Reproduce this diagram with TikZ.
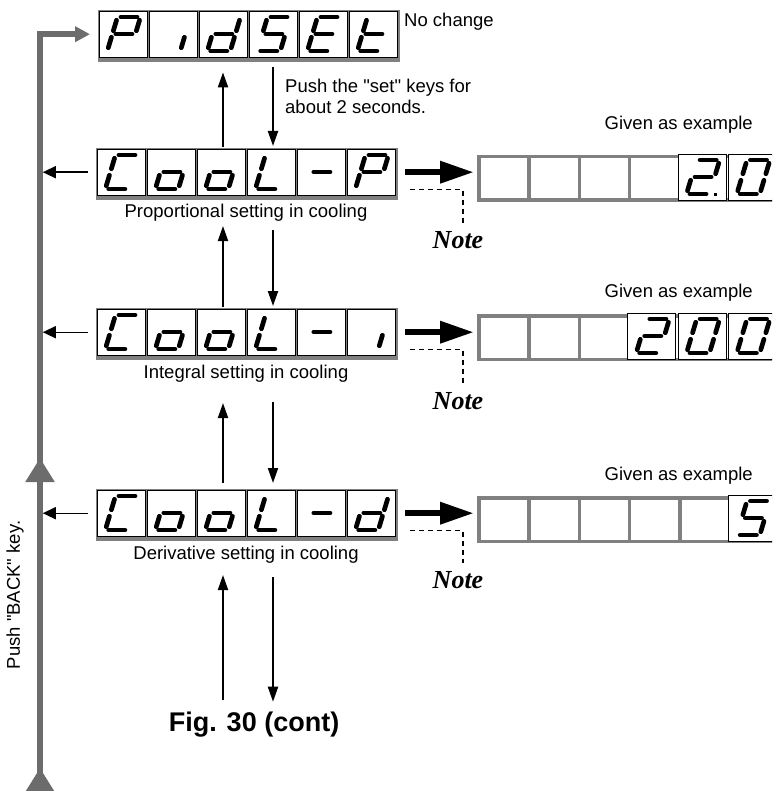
\documentclass[tikz,border=0pt]{standalone}
\usepackage{fontspec}
\setmainfont{Liberation Sans}[Ligatures=TeXOff]
\newfontfamily\notefont{Liberation Serif}
\usetikzlibrary{arrows.meta,decorations.markings}

\definecolor{linegray}{RGB}{108,108,108}
\definecolor{boxgray}{RGB}{128,128,128}

% segment lists of the seven-segment characters
\def\lcdP{tl/tr,tr/mr,tl/ml,ml/mr,ml/bl}
\def\lcdI{mr/br}
\def\lcdD{tr/mr,mr/br,bl/br,ml/bl,ml/mr}
\def\lcdS{tl/tr,tl/ml,ml/mr,mr/br,bl/br}
\def\lcdE{tl/tr,tl/ml,ml/mr,ml/bl,bl/br}
\def\lcdT{tl/ml,ml/bl,ml/mr,bl/br}
\def\lcdC{tl/tr,tl/ml,ml/bl,bl/br}
\def\lcdO{ml/mr,mr/br,bl/br,ml/bl}
\def\lcdL{tl/ml,ml/bl,bl/br}
\def\lcdM{ml/mr}
\def\lcdTwo{tl/tr,tr/mr,ml/mr,ml/bl,bl/br}
\def\lcdZero{tl/tr,tr/mr,mr/br,bl/br,ml/bl,tl/ml}
\let\lcdFive\lcdS

\newcommand{\segcell}[3]{%
  \draw[cellbox] (#1,#2) rectangle ++(48,46);
  \begin{scope}[shift={({#1+18.5},{#2+6})}, xslant=0.3]
    \coordinate (tl) at (0,0);  \coordinate (tr) at (23,0);
    \coordinate (ml) at (0,17); \coordinate (mr) at (23,17);
    \coordinate (bl) at (0,34); \coordinate (br) at (23,34);
    \edef\seglist{#3}
    \foreach \p/\q in \seglist {\draw[lcdseg] (\p) -- (\q);}
  \end{scope}}

\newcommand{\lcdrow}[4]{%
  \node[dispnode] (#1) at (#2,#3) {};
  \fill[boxgray] ({#2-1},{#3-1}) rectangle ({#2+301},{#3+51});
  \foreach \c [count=\k from 0] in {#4} {\segcell{#2+50*\k}{#3}{\c}}}

\newcommand{\valrow}[2]{%
  \node[valnode] (#1) at (477,#2) {};
  \draw[valgrid] (478.75,{#2+1.75}) rectangle (830,{#2+45.25});
  \foreach \k in {1,...,5} {\draw[valgrid] ({478.75+50.3*\k},#2) -- ++(0,47);}}

\begin{document}
\begin{tikzpicture}[x=1pt, y=-1pt,
    cellbox/.style={draw=black, fill=white, line width=0.9pt},
    lcdseg/.style={line width=4.7pt, line cap=round, shorten <=3.4pt, shorten >=3.4pt},
    dispnode/.style={inner sep=0pt, minimum width=298pt, minimum height=46pt, anchor=north west},
    valnode/.style={inner sep=0pt, minimum width=302pt, minimum height=47pt, anchor=north west},
    valgrid/.style={draw=boxgray, line width=3.5pt},
    lbl/.style={font=\fontsize{18.5}{21}\selectfont, inner sep=0pt, anchor=base},
    notetext/.style={font=\notefont\fontsize{26}{28}\selectfont\bfseries\itshape, inner sep=0pt},
    steparrow/.style={line width=2pt, -{Triangle[length=15pt,width=10pt]}},
    backarrow/.style={line width=1.4pt, -{Triangle[length=13pt,width=12pt]}, shorten <=9pt, shorten >=2.75pt},
    bigarrow/.style={line width=6.5pt, -{Triangle[length=34pt,width=21pt]}, shorten <=10pt, shorten >=3pt},
    noteline/.style={line width=1.1pt, dash pattern=on 5pt off 4pt, shorten >=8pt},
    backline/.style={draw=linegray, line width=5.5pt, -{Triangle[length=15pt,width=15pt]}, shorten >=9pt,
      postaction={decorate}, decoration={markings,
        mark=at position 32pt with {\arrow{Triangle[length=24pt,width=28pt]}},
        mark=at position 342pt with {\arrow{Triangle[length=24pt,width=28pt]}}}}]
  \useasboundingbox (0,0) rectangle (772,791);
  \clip (0,0) rectangle (772,791);

  \lcdrow{pidset}{99}{11}{\lcdP,\lcdI,\lcdD,\lcdS,\lcdE,\lcdT}
  \lcdrow{coolp}{97}{149}{\lcdC,\lcdO,\lcdO,\lcdL,\lcdM,\lcdP}
  \lcdrow{cooli}{97}{309}{\lcdC,\lcdO,\lcdO,\lcdL,\lcdM,\lcdI}
  \lcdrow{coold}{97}{490}{\lcdC,\lcdO,\lcdO,\lcdL,\lcdM,\lcdD}

  \valrow{valp}{155}
  \segcell{477+50.3*4}{154}{\lcdTwo}
  \fill ({477+50.3*4+35.5},193) rectangle ++(3.5,3.5);
  \segcell{477+50.3*5}{154}{\lcdZero}
  \valrow{vali}{314}
  \segcell{477+50.3*3}{313}{\lcdTwo}
  \segcell{477+50.3*4}{313}{\lcdZero}
  \segcell{477+50.3*5}{313}{\lcdZero}
  \valrow{vald}{496}
  \segcell{477+50.3*5}{495}{\lcdFive}

  \node[lbl] (lblp) at (246,218) {Proportional setting in cooling};
  \node[lbl] (lbli) at (246,378) {Integral setting in cooling};
  \node[lbl] (lbld) at (246,559) {Derivative setting in cooling};
  \node[lbl, anchor=base east] (givenp) at (753,130) {Given as example};
  \node[lbl, anchor=base east] (giveni) at (753,297) {Given as example};
  \node[lbl, anchor=base east] (givend) at (753,480) {Given as example};
  \node[lbl, anchor=base west] (nochange) at (404,27) {No change};
  \node[lbl, anchor=north west, align=left] (sethint) at (285,78.5) {Push the "set" keys for\\about 2 seconds.};
  \node[lbl, anchor=center, rotate=90] (backlbl) at (15,595) {Push "BACK" key.};
  \node[notetext] (notep) at (458,240) {Note};
  \node[notetext] (notei) at (458,401) {Note};
  \node[notetext] (noted) at (458,580) {Note};
  \node[font=\fontsize{27}{30}\selectfont\bfseries, inner sep=0pt, anchor=base] (title) at (254,731.5) {Fig. 30 (cont)};

  \coordinate (upx) at (223,0);
  \coordinate (dnx) at (273,0);
  \coordinate (backx) at (40,0);
  \coordinate (backstart) at (40,800);

  \draw[backline] (backstart) -- (backstart |- pidset.west) -- (pidset.west);
  \draw[backarrow] (coolp.west) -- (coolp.west -| backx);
  \draw[backarrow] (cooli.west) -- (cooli.west -| backx);
  \draw[backarrow] (coold.west) -- (coold.west -| backx);

  \draw[bigarrow] (coolp.east) -- (coolp.east -| valp.west);
  \draw[bigarrow] (cooli.east) -- (cooli.east -| vali.west);
  \draw[bigarrow] (coold.east) -- (coold.east -| vald.west);
  \draw[noteline] ([shift={(15,17)}]coolp.east) -| ([xshift=5pt]notep.north);
  \draw[noteline] ([shift={(15,17)}]cooli.east) -| ([xshift=5pt]notei.north);
  \draw[noteline] ([shift={(15,17)}]coold.east) -| ([xshift=5pt]noted.north);

  \draw[steparrow, shorten <=2pt, shorten >=15pt] (coolp.north -| upx) -- (pidset.south -| upx);
  \draw[steparrow, shorten <=10pt, shorten >=3pt] (pidset.south -| dnx) -- (coolp.north -| dnx);
  \draw[steparrow, shorten <=2pt, shorten >=4pt] (cooli.north -| upx) -- (lblp.south -| upx);
  \draw[steparrow, shorten <=8pt, shorten >=3pt] (lblp.south -| dnx) -- (cooli.north -| dnx);
  \draw[steparrow, shorten <=7pt, shorten >=21pt] (coold.north -| upx) -- (lbli.south -| upx);
  \draw[steparrow, shorten <=20pt, shorten >=7pt] (lbli.south -| dnx) -- (coold.north -| dnx);
  \draw[steparrow, shorten <=12pt, shorten >=12pt] (title.north -| upx) -- (lbld.south -| upx);
  \draw[steparrow, shorten <=14pt, shorten >=10pt] (lbld.south -| dnx) -- (title.north -| dnx);
\end{tikzpicture}
\end{document}
